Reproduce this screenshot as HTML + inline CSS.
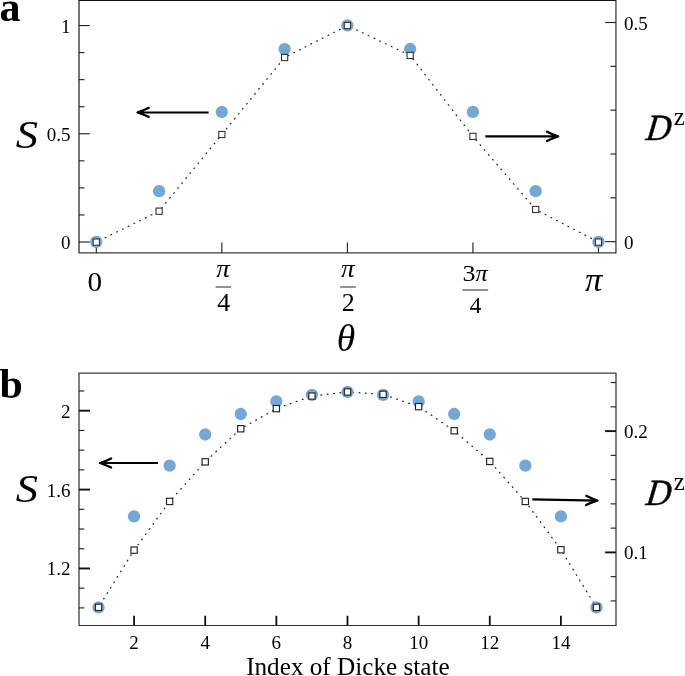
<!DOCTYPE html>
<html lang="en"><head><meta charset="utf-8"><title>Figure</title>
<style>
html,body{margin:0;padding:0;background:#fff;}
body{width:685px;height:676px;overflow:hidden;}
svg{display:block;font-family:"Liberation Serif","DejaVu Serif",serif;fill:#000;}
</style></head><body>
<svg width="685" height="676" viewBox="0 0 685 676">
<rect x="0" y="0" width="685" height="676" fill="#fff"/>
<path d="M615.95,0.0 L79.0,0.0 L79.0,252.9 L615.95,252.9" fill="none" stroke="#3c3c3c" stroke-width="1.4" stroke-linejoin="round"/>
<path d="M615.95,0.0 L615.95,252.9" fill="none" stroke="#3c3c3c" stroke-width="1.3" stroke-linecap="round"/>
<line x1="79.00" y1="0.30" x2="615.95" y2="0.30" stroke="#111" stroke-width="1.2" />
<line x1="79.00" y1="242.00" x2="89.80" y2="242.00" stroke="#1c1c1c" stroke-width="1.1" />
<line x1="79.00" y1="214.94" x2="84.50" y2="214.94" stroke="#1c1c1c" stroke-width="1.1" />
<line x1="79.00" y1="187.89" x2="84.50" y2="187.89" stroke="#1c1c1c" stroke-width="1.1" />
<line x1="79.00" y1="160.83" x2="84.50" y2="160.83" stroke="#1c1c1c" stroke-width="1.1" />
<line x1="79.00" y1="133.78" x2="89.80" y2="133.78" stroke="#1c1c1c" stroke-width="1.1" />
<line x1="79.00" y1="106.72" x2="84.50" y2="106.72" stroke="#1c1c1c" stroke-width="1.1" />
<line x1="79.00" y1="79.66" x2="84.50" y2="79.66" stroke="#1c1c1c" stroke-width="1.1" />
<line x1="79.00" y1="52.61" x2="84.50" y2="52.61" stroke="#1c1c1c" stroke-width="1.1" />
<line x1="79.00" y1="25.55" x2="89.80" y2="25.55" stroke="#1c1c1c" stroke-width="1.1" />
<line x1="615.95" y1="241.65" x2="605.15" y2="241.65" stroke="#1c1c1c" stroke-width="1.1" />
<line x1="615.95" y1="197.82" x2="610.45" y2="197.82" stroke="#1c1c1c" stroke-width="1.1" />
<line x1="615.95" y1="153.99" x2="610.45" y2="153.99" stroke="#1c1c1c" stroke-width="1.1" />
<line x1="615.95" y1="110.16" x2="610.45" y2="110.16" stroke="#1c1c1c" stroke-width="1.1" />
<line x1="615.95" y1="66.33" x2="610.45" y2="66.33" stroke="#1c1c1c" stroke-width="1.1" />
<line x1="615.95" y1="22.50" x2="605.15" y2="22.50" stroke="#1c1c1c" stroke-width="1.1" />
<line x1="96.30" y1="252.90" x2="96.30" y2="242.60" stroke="#1c1c1c" stroke-width="1.1" />
<line x1="221.84" y1="252.90" x2="221.84" y2="242.60" stroke="#1c1c1c" stroke-width="1.1" />
<line x1="347.38" y1="252.90" x2="347.38" y2="242.60" stroke="#1c1c1c" stroke-width="1.1" />
<line x1="472.92" y1="252.90" x2="472.92" y2="242.60" stroke="#1c1c1c" stroke-width="1.1" />
<line x1="598.46" y1="252.90" x2="598.46" y2="242.60" stroke="#1c1c1c" stroke-width="1.1" />
<polyline points="96.30,242.10 159.07,211.20 221.84,134.50 284.61,57.50 347.38,25.60 410.15,55.40 472.92,136.40 535.69,209.50 598.46,242.10" fill="none" stroke="#222" stroke-width="1.2" stroke-dasharray="1.8 4.6" stroke-dashoffset="-3"/>
<circle cx="96.30" cy="241.90" r="6.15" fill="#75a7d4"/>
<circle cx="159.07" cy="191.20" r="6.15" fill="#75a7d4"/>
<circle cx="221.84" cy="112.00" r="6.15" fill="#75a7d4"/>
<circle cx="284.61" cy="49.10" r="6.15" fill="#75a7d4"/>
<circle cx="347.38" cy="25.40" r="6.15" fill="#75a7d4"/>
<circle cx="410.15" cy="49.00" r="6.15" fill="#75a7d4"/>
<circle cx="472.92" cy="111.90" r="6.15" fill="#75a7d4"/>
<circle cx="535.69" cy="191.20" r="6.15" fill="#75a7d4"/>
<circle cx="598.46" cy="241.90" r="6.15" fill="#75a7d4"/>
<rect x="93.20" y="239.00" width="6.2" height="6.2" fill="#fff" stroke="#2c2c2c" stroke-width="1.05"/>
<rect x="155.97" y="208.10" width="6.2" height="6.2" fill="#fff" stroke="#2c2c2c" stroke-width="1.05"/>
<rect x="218.74" y="131.40" width="6.2" height="6.2" fill="#fff" stroke="#2c2c2c" stroke-width="1.05"/>
<rect x="281.51" y="54.40" width="6.2" height="6.2" fill="#fff" stroke="#2c2c2c" stroke-width="1.05"/>
<rect x="344.28" y="22.50" width="6.2" height="6.2" fill="#fff" stroke="#2c2c2c" stroke-width="1.05"/>
<rect x="407.05" y="52.30" width="6.2" height="6.2" fill="#fff" stroke="#2c2c2c" stroke-width="1.05"/>
<rect x="469.82" y="133.30" width="6.2" height="6.2" fill="#fff" stroke="#2c2c2c" stroke-width="1.05"/>
<rect x="532.59" y="206.40" width="6.2" height="6.2" fill="#fff" stroke="#2c2c2c" stroke-width="1.05"/>
<rect x="595.36" y="239.00" width="6.2" height="6.2" fill="#fff" stroke="#2c2c2c" stroke-width="1.05"/>
<g transform="translate(136.20,112.45) rotate(180.00)" fill="none" stroke="#000" stroke-width="2.15" stroke-linecap="round" stroke-linejoin="round">
<path d="M-72.40,0 L-1.5,0" stroke-linecap="butt"/>
<path d="M-12.6,-4.6 Q-7.5,-2.0 -1.6,0 Q-7.5,2.0 -12.6,4.6" stroke-width="2.3"/>
<path d="M0.3,0 L-7.5,-3.0 L-7.5,3.0 Z" fill="#000" stroke="none"/>
</g>
<g transform="translate(559.60,136.30) rotate(0.00)" fill="none" stroke="#000" stroke-width="2.15" stroke-linecap="round" stroke-linejoin="round">
<path d="M-74.30,0 L-1.5,0" stroke-linecap="butt"/>
<path d="M-12.6,-4.6 Q-7.5,-2.0 -1.6,0 Q-7.5,2.0 -12.6,4.6" stroke-width="2.3"/>
<path d="M0.3,0 L-7.5,-3.0 L-7.5,3.0 Z" fill="#000" stroke="none"/>
</g>
<text x="70.40" y="32.50" font-size="19" text-anchor="end"  >1</text>
<text x="70.40" y="140.50" font-size="19" text-anchor="end"  >0.5</text>
<text x="70.40" y="248.90" font-size="19" text-anchor="end"  >0</text>
<text x="623.90" y="29.50" font-size="19" text-anchor="start"  >0.5</text>
<text x="623.90" y="248.90" font-size="19" text-anchor="start"  >0</text>
<text x="0.00" y="0.00" font-size="39" text-anchor="middle" font-style="italic" transform="translate(26.8,148.2) scale(1.14,1)">S</text>
<text x="0.00" y="0.00" font-size="37" text-anchor="middle" font-style="italic" transform="translate(657.8,139.5) skewX(-7) scale(0.93,1)" stroke="#000" stroke-width="0.45">D</text>
<text x="679.20" y="124.50" font-size="25" text-anchor="middle"  >z</text>
<text x="0.00" y="0.00" font-size="26.5" text-anchor="middle"  transform="translate(94.8,291.2) scale(1.1,1)">0</text>
<text x="593.60" y="290.60" font-size="34.5" text-anchor="middle" font-style="italic" >π</text>
<text font-size="24.3" text-anchor="middle" font-style="italic" transform="translate(223.10,277.00) scale(1.12,1)">π</text>
<line x1="215.60" y1="287.00" x2="231.20" y2="287.00" stroke="#222" stroke-width="1.0" />
<text x="223.70" y="311.00" font-size="26" text-anchor="middle"  >4</text>
<text font-size="24.3" text-anchor="middle" font-style="italic" transform="translate(347.70,277.00) scale(1.12,1)">π</text>
<line x1="340.20" y1="287.00" x2="355.80" y2="287.00" stroke="#222" stroke-width="1.0" />
<text x="348.30" y="311.00" font-size="26" text-anchor="middle"  >2</text>
<text x="0.00" y="0.00" font-size="23.2" text-anchor="middle"  transform="translate(468.9,280.9) scale(1.12,1)">3</text>
<text font-size="22.2" text-anchor="middle" font-style="italic" transform="translate(481.60,280.80) scale(1.1,1)">π</text>
<line x1="462.40" y1="290.00" x2="488.10" y2="290.00" stroke="#222" stroke-width="1.0" />
<text x="475.50" y="312.80" font-size="23.2" text-anchor="middle"  >4</text>
<text x="346.00" y="350.50" font-size="37.6" text-anchor="middle" font-style="italic" >θ</text>
<text x="-0.50" y="21.20" font-size="42" text-anchor="start" font-weight="bold" >a</text>
<path d="M79.0,625.55 L79.0,373.1 L616.0,373.1 L616.0,625.55" fill="none" stroke="#3c3c3c" stroke-width="1.3" stroke-linejoin="round"/>
<path d="M79.0,625.55 L616.0,625.55" fill="none" stroke="#333" stroke-width="1.1" stroke-linecap="round"/>
<line x1="79.00" y1="607.90" x2="84.30" y2="607.90" stroke="#1c1c1c" stroke-width="1.1" />
<line x1="79.00" y1="588.18" x2="84.30" y2="588.18" stroke="#1c1c1c" stroke-width="1.1" />
<line x1="79.00" y1="568.46" x2="90.00" y2="568.46" stroke="#111" stroke-width="1.9" />
<line x1="79.00" y1="548.74" x2="84.30" y2="548.74" stroke="#1c1c1c" stroke-width="1.1" />
<line x1="79.00" y1="529.02" x2="84.30" y2="529.02" stroke="#1c1c1c" stroke-width="1.1" />
<line x1="79.00" y1="509.30" x2="84.30" y2="509.30" stroke="#1c1c1c" stroke-width="1.1" />
<line x1="79.00" y1="489.58" x2="90.00" y2="489.58" stroke="#111" stroke-width="1.9" />
<line x1="79.00" y1="469.86" x2="84.30" y2="469.86" stroke="#1c1c1c" stroke-width="1.1" />
<line x1="79.00" y1="450.14" x2="84.30" y2="450.14" stroke="#1c1c1c" stroke-width="1.1" />
<line x1="79.00" y1="430.42" x2="84.30" y2="430.42" stroke="#1c1c1c" stroke-width="1.1" />
<line x1="79.00" y1="410.70" x2="90.00" y2="410.70" stroke="#111" stroke-width="1.9" />
<line x1="79.00" y1="390.98" x2="84.30" y2="390.98" stroke="#1c1c1c" stroke-width="1.1" />
<line x1="615.95" y1="600.92" x2="610.65" y2="600.92" stroke="#1c1c1c" stroke-width="1.1" />
<line x1="615.95" y1="576.66" x2="610.65" y2="576.66" stroke="#1c1c1c" stroke-width="1.1" />
<line x1="615.95" y1="552.40" x2="605.15" y2="552.40" stroke="#111" stroke-width="1.9" />
<line x1="615.95" y1="528.14" x2="610.65" y2="528.14" stroke="#1c1c1c" stroke-width="1.1" />
<line x1="615.95" y1="503.88" x2="610.65" y2="503.88" stroke="#1c1c1c" stroke-width="1.1" />
<line x1="615.95" y1="479.62" x2="610.65" y2="479.62" stroke="#1c1c1c" stroke-width="1.1" />
<line x1="615.95" y1="455.36" x2="610.65" y2="455.36" stroke="#1c1c1c" stroke-width="1.1" />
<line x1="615.95" y1="431.10" x2="605.15" y2="431.10" stroke="#111" stroke-width="1.9" />
<line x1="615.95" y1="406.84" x2="610.65" y2="406.84" stroke="#1c1c1c" stroke-width="1.1" />
<line x1="615.95" y1="382.58" x2="610.65" y2="382.58" stroke="#1c1c1c" stroke-width="1.1" />
<line x1="134.07" y1="625.55" x2="134.07" y2="615.75" stroke="#111" stroke-width="1.8" />
<line x1="205.21" y1="625.55" x2="205.21" y2="615.75" stroke="#111" stroke-width="1.8" />
<line x1="276.35" y1="625.55" x2="276.35" y2="615.75" stroke="#111" stroke-width="1.8" />
<line x1="347.49" y1="625.55" x2="347.49" y2="615.75" stroke="#111" stroke-width="1.8" />
<line x1="418.63" y1="625.55" x2="418.63" y2="615.75" stroke="#111" stroke-width="1.8" />
<line x1="489.77" y1="625.55" x2="489.77" y2="615.75" stroke="#111" stroke-width="1.8" />
<line x1="560.91" y1="625.55" x2="560.91" y2="615.75" stroke="#111" stroke-width="1.8" />
<polyline points="98.50,607.35 134.07,550.15 169.64,501.45 205.21,461.85 240.78,428.75 276.35,408.65 311.92,396.05 347.49,391.95 383.06,394.35 418.63,406.65 454.20,430.75 489.77,461.45 525.34,501.45 560.91,549.75 596.48,607.35" fill="none" stroke="#222" stroke-width="1.2" stroke-dasharray="1.8 4.6" stroke-dashoffset="-3"/>
<circle cx="98.50" cy="607.40" r="6.15" fill="#75a7d4"/>
<circle cx="134.07" cy="516.30" r="6.15" fill="#75a7d4"/>
<circle cx="169.64" cy="465.60" r="6.15" fill="#75a7d4"/>
<circle cx="205.21" cy="434.50" r="6.15" fill="#75a7d4"/>
<circle cx="240.78" cy="414.00" r="6.15" fill="#75a7d4"/>
<circle cx="276.35" cy="401.40" r="6.15" fill="#75a7d4"/>
<circle cx="311.92" cy="394.80" r="6.15" fill="#75a7d4"/>
<circle cx="347.49" cy="392.00" r="6.15" fill="#75a7d4"/>
<circle cx="383.06" cy="394.80" r="6.15" fill="#75a7d4"/>
<circle cx="418.63" cy="401.40" r="6.15" fill="#75a7d4"/>
<circle cx="454.20" cy="414.00" r="6.15" fill="#75a7d4"/>
<circle cx="489.77" cy="434.50" r="6.15" fill="#75a7d4"/>
<circle cx="525.34" cy="465.60" r="6.15" fill="#75a7d4"/>
<circle cx="560.91" cy="516.30" r="6.15" fill="#75a7d4"/>
<circle cx="596.48" cy="607.40" r="6.15" fill="#75a7d4"/>
<rect x="95.35" y="604.20" width="6.3" height="6.3" fill="#fff" stroke="#222" stroke-width="1.15"/>
<rect x="130.92" y="547.00" width="6.3" height="6.3" fill="#fff" stroke="#222" stroke-width="1.15"/>
<rect x="166.49" y="498.30" width="6.3" height="6.3" fill="#fff" stroke="#222" stroke-width="1.15"/>
<rect x="202.06" y="458.70" width="6.3" height="6.3" fill="#fff" stroke="#222" stroke-width="1.15"/>
<rect x="237.63" y="425.60" width="6.3" height="6.3" fill="#fff" stroke="#222" stroke-width="1.15"/>
<rect x="273.20" y="405.50" width="6.3" height="6.3" fill="#fff" stroke="#222" stroke-width="1.15"/>
<rect x="308.77" y="392.90" width="6.3" height="6.3" fill="#fff" stroke="#222" stroke-width="1.15"/>
<rect x="344.34" y="388.80" width="6.3" height="6.3" fill="#fff" stroke="#222" stroke-width="1.15"/>
<rect x="379.91" y="391.20" width="6.3" height="6.3" fill="#fff" stroke="#222" stroke-width="1.15"/>
<rect x="415.48" y="403.50" width="6.3" height="6.3" fill="#fff" stroke="#222" stroke-width="1.15"/>
<rect x="451.05" y="427.60" width="6.3" height="6.3" fill="#fff" stroke="#222" stroke-width="1.15"/>
<rect x="486.62" y="458.30" width="6.3" height="6.3" fill="#fff" stroke="#222" stroke-width="1.15"/>
<rect x="522.19" y="498.30" width="6.3" height="6.3" fill="#fff" stroke="#222" stroke-width="1.15"/>
<rect x="557.76" y="546.60" width="6.3" height="6.3" fill="#fff" stroke="#222" stroke-width="1.15"/>
<rect x="593.33" y="604.20" width="6.3" height="6.3" fill="#fff" stroke="#222" stroke-width="1.15"/>
<g transform="translate(98.50,463.00) rotate(180.00)" fill="none" stroke="#000" stroke-width="2.15" stroke-linecap="round" stroke-linejoin="round">
<path d="M-59.50,0 L-1.5,0" stroke-linecap="butt"/>
<path d="M-12.6,-4.6 Q-7.5,-2.0 -1.6,0 Q-7.5,2.0 -12.6,4.6" stroke-width="2.3"/>
<path d="M0.3,0 L-7.5,-3.0 L-7.5,3.0 Z" fill="#000" stroke="none"/>
</g>
<g transform="translate(598.80,500.60) rotate(1.03)" fill="none" stroke="#000" stroke-width="2.15" stroke-linecap="round" stroke-linejoin="round">
<path d="M-66.51,0 L-1.5,0" stroke-linecap="butt"/>
<path d="M-12.6,-4.6 Q-7.5,-2.0 -1.6,0 Q-7.5,2.0 -12.6,4.6" stroke-width="2.3"/>
<path d="M0.3,0 L-7.5,-3.0 L-7.5,3.0 Z" fill="#000" stroke="none"/>
</g>
<text x="70.40" y="417.80" font-size="19" text-anchor="end"  >2</text>
<text x="70.40" y="496.70" font-size="19" text-anchor="end"  >1.6</text>
<text x="70.40" y="575.30" font-size="19" text-anchor="end"  >1.2</text>
<text x="623.90" y="437.90" font-size="19" text-anchor="start"  >0.2</text>
<text x="623.90" y="559.20" font-size="19" text-anchor="start"  >0.1</text>
<text x="134.07" y="648.50" font-size="19" text-anchor="middle"  >2</text>
<text x="205.21" y="648.50" font-size="19" text-anchor="middle"  >4</text>
<text x="276.35" y="648.50" font-size="19" text-anchor="middle"  >6</text>
<text x="347.49" y="648.50" font-size="19" text-anchor="middle"  >8</text>
<text x="418.63" y="648.50" font-size="19" text-anchor="middle"  >10</text>
<text x="489.77" y="648.50" font-size="19" text-anchor="middle"  >12</text>
<text x="560.91" y="648.50" font-size="19" text-anchor="middle"  >14</text>
<text x="347.90" y="674.80" font-size="25.2" text-anchor="middle"  >Index of Dicke state</text>
<text x="0.00" y="0.00" font-size="39" text-anchor="middle" font-style="italic" transform="translate(26.8,502.0) scale(1.14,1)">S</text>
<text x="0.00" y="0.00" font-size="37" text-anchor="middle" font-style="italic" transform="translate(657.8,504.5) skewX(-7) scale(0.93,1)" stroke="#000" stroke-width="0.45">D</text>
<text x="679.20" y="489.50" font-size="25" text-anchor="middle"  >z</text>
<text x="-0.50" y="398.40" font-size="42" text-anchor="start" font-weight="bold" >b</text>
</svg>
</body></html>
